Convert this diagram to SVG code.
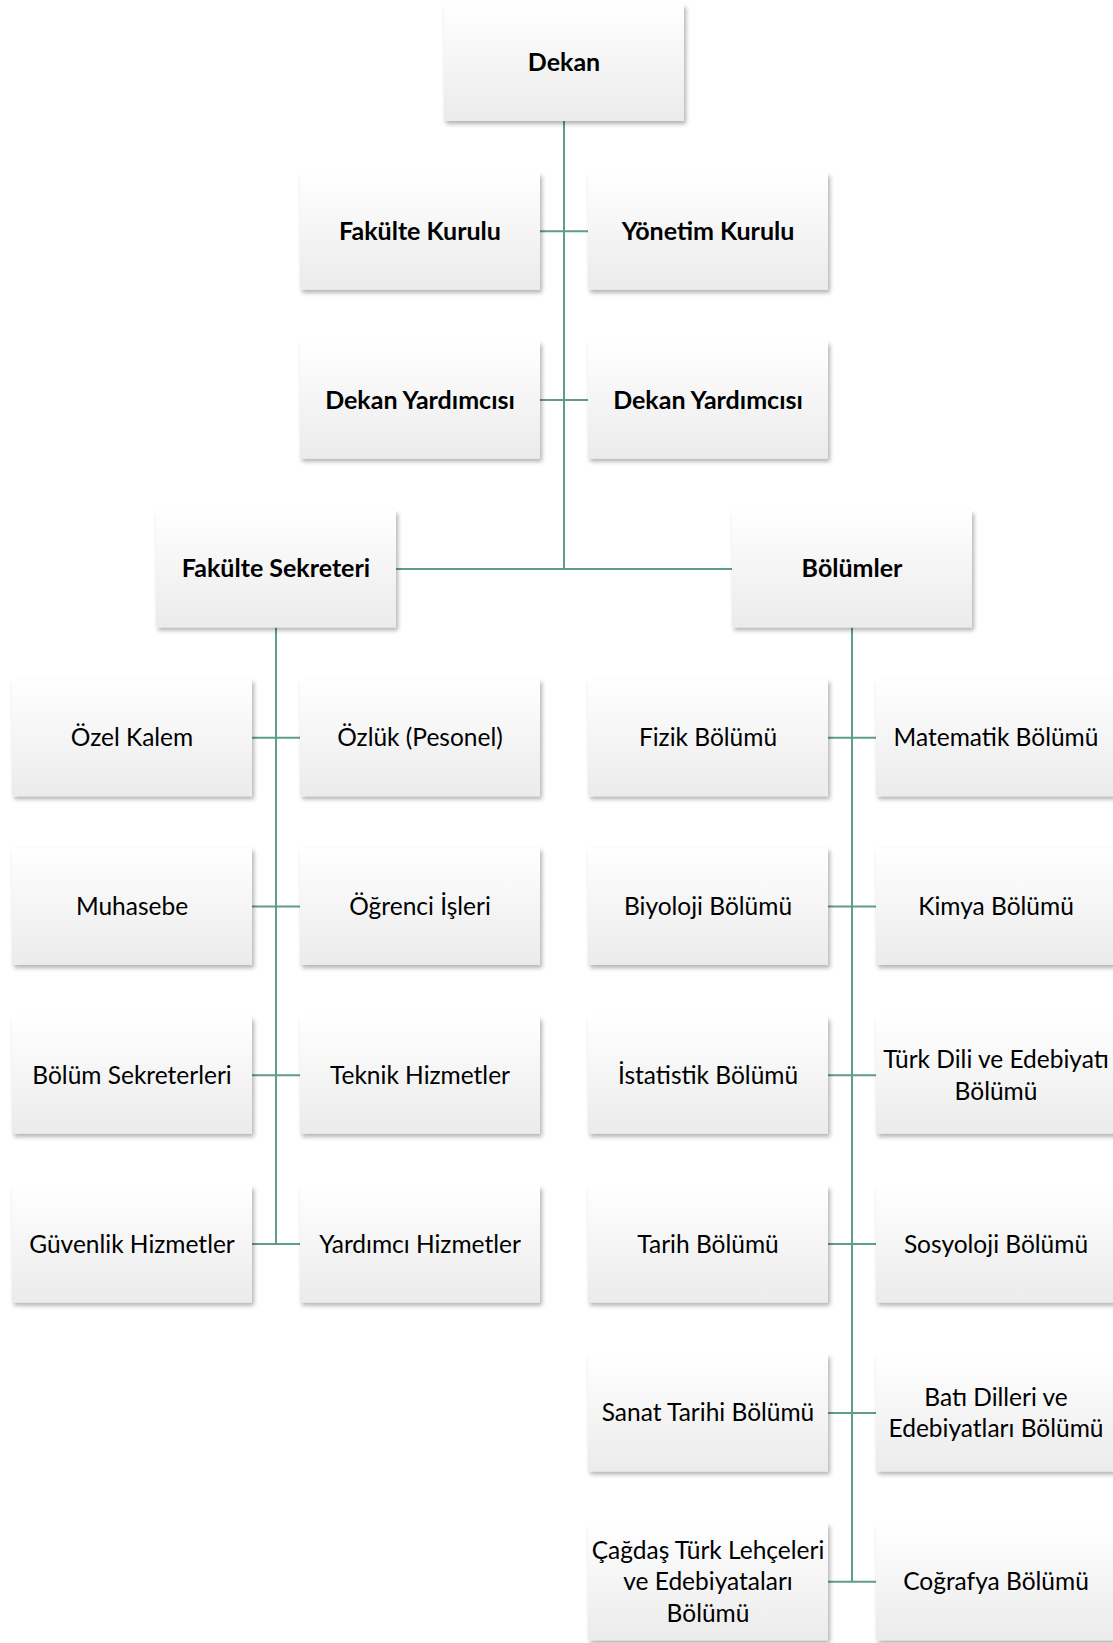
<svg xmlns="http://www.w3.org/2000/svg" width="1113" height="1643" viewBox="0 0 1113 1643">
<defs>
<linearGradient id="g" x1="0" y1="0" x2="0" y2="1">
<stop offset="0" stop-color="#ffffff"/>
<stop offset="1" stop-color="#ebebeb"/>
</linearGradient>
<filter id="sh" x="-10%" y="-10%" width="125%" height="130%">
<feDropShadow dx="2" dy="3" stdDeviation="2" flood-color="#000" flood-opacity="0.3"/>
</filter>
</defs>
<style>
.b{fill:url(#g);filter:url(#sh)}
.t{font-family:Lato,"Liberation Sans",sans-serif;font-size:24.5px;fill:#000;text-anchor:middle}
.bd{font-weight:bold;font-size:25px}
.c{stroke:#5e9e84;stroke-width:2;fill:none}
</style>
<rect width="1113" height="1643" fill="#fff"/>
<g id="connectors">
<path class="c" d="M564 121V569M540 231.3H588M540 400H588M396 569H732"/>
<path class="c" d="M276 627.4V1244.1M252 737.7H300M252 906.5H300M252 1075.3H300M252 1244.1H300"/>
<path class="c" d="M852 627.4V1581.7M828 737.7H876M828 906.5H876M828 1075.3H876M828 1244.1H876M828 1412.9H876M828 1581.7H876"/>
</g>
<g id="dekan"><rect class="b" x="444" y="4" width="240" height="117"/><text class="t bd" x="564" y="71">Dekan</text></g>
<g id="fakulte-kurulu"><rect class="b" x="300" y="172.8" width="240" height="117"/><text class="t bd" x="420" y="239.8">Fakülte Kurulu</text></g>
<g id="yonetim-kurulu"><rect class="b" x="588" y="172.8" width="240" height="117"/><text class="t bd" x="708" y="239.8">Yönetim Kurulu</text></g>
<g id="dekan-yrd-1"><rect class="b" x="300" y="341.6" width="240" height="117"/><text class="t bd" x="420" y="408.6">Dekan Yardımcısı</text></g>
<g id="dekan-yrd-2"><rect class="b" x="588" y="341.6" width="240" height="117"/><text class="t bd" x="708" y="408.6">Dekan Yardımcısı</text></g>
<g id="fakulte-sekreteri"><rect class="b" x="156" y="510.4" width="240" height="117"/><text class="t bd" x="276" y="577.4">Fakülte Sekreteri</text></g>
<g id="bolumler"><rect class="b" x="732" y="510.4" width="240" height="117"/><text class="t bd" x="852" y="577.4">Bölümler</text></g>

<g id="ozel-kalem"><rect class="b" x="12" y="679.2" width="240" height="117"/><text class="t" x="132" y="746.2">Özel Kalem</text></g>
<g id="ozluk"><rect class="b" x="300" y="679.2" width="240" height="117"/><text class="t" x="420" y="746.2">Özlük (Pesonel)</text></g>
<g id="muhasebe"><rect class="b" x="12" y="848" width="240" height="117"/><text class="t" x="132" y="915">Muhasebe</text></g>
<g id="ogrenci-isleri"><rect class="b" x="300" y="848" width="240" height="117"/><text class="t" x="420" y="915">Öğrenci İşleri</text></g>
<g id="bolum-sekreterleri"><rect class="b" x="12" y="1016.8" width="240" height="117"/><text class="t" x="132" y="1083.8">Bölüm Sekreterleri</text></g>
<g id="teknik-hizmetler"><rect class="b" x="300" y="1016.8" width="240" height="117"/><text class="t" x="420" y="1083.8">Teknik Hizmetler</text></g>
<g id="guvenlik-hizmetler"><rect class="b" x="12" y="1185.6" width="240" height="117"/><text class="t" x="132" y="1252.6">Güvenlik Hizmetler</text></g>
<g id="yardimci-hizmetler"><rect class="b" x="300" y="1185.6" width="240" height="117"/><text class="t" x="420" y="1252.6">Yardımcı Hizmetler</text></g>

<g id="fizik"><rect class="b" x="588" y="679.2" width="240" height="117"/><text class="t" x="708" y="746.2">Fizik Bölümü</text></g>
<g id="matematik"><rect class="b" x="876" y="679.2" width="240" height="117"/><text class="t" x="996" y="746.2">Matematik Bölümü</text></g>
<g id="biyoloji"><rect class="b" x="588" y="848" width="240" height="117"/><text class="t" x="708" y="915">Biyoloji Bölümü</text></g>
<g id="kimya"><rect class="b" x="876" y="848" width="240" height="117"/><text class="t" x="996" y="915">Kimya Bölümü</text></g>
<g id="istatistik"><rect class="b" x="588" y="1016.8" width="240" height="117"/><text class="t" x="708" y="1083.8">İstatistik Bölümü</text></g>
<g id="turk-dili"><rect class="b" x="876" y="1016.8" width="240" height="117"/><text class="t" x="996" y="1068">Türk Dili ve Edebiyatı</text><text class="t" x="996" y="1099.5">Bölümü</text></g>
<g id="tarih"><rect class="b" x="588" y="1185.6" width="240" height="117"/><text class="t" x="708" y="1252.6">Tarih Bölümü</text></g>
<g id="sosyoloji"><rect class="b" x="876" y="1185.6" width="240" height="117"/><text class="t" x="996" y="1252.6">Sosyoloji Bölümü</text></g>
<g id="sanat-tarihi"><rect class="b" x="588" y="1354.4" width="240" height="117"/><text class="t" x="708" y="1421.4">Sanat Tarihi Bölümü</text></g>
<g id="bati-dilleri"><rect class="b" x="876" y="1354.4" width="240" height="117"/><text class="t" x="996" y="1405.6">Batı Dilleri ve</text><text class="t" x="996" y="1437.1">Edebiyatları Bölümü</text></g>
<g id="cagdas-turk"><rect class="b" x="588" y="1523.2" width="240" height="117"/><text class="t" x="708" y="1558.7">Çağdaş Türk Lehçeleri</text><text class="t" x="708" y="1590.2">ve Edebiyataları</text><text class="t" x="708" y="1621.7">Bölümü</text></g>
<g id="cografya"><rect class="b" x="876" y="1523.2" width="240" height="117"/><text class="t" x="996" y="1590.2">Coğrafya Bölümü</text></g>
</svg>
